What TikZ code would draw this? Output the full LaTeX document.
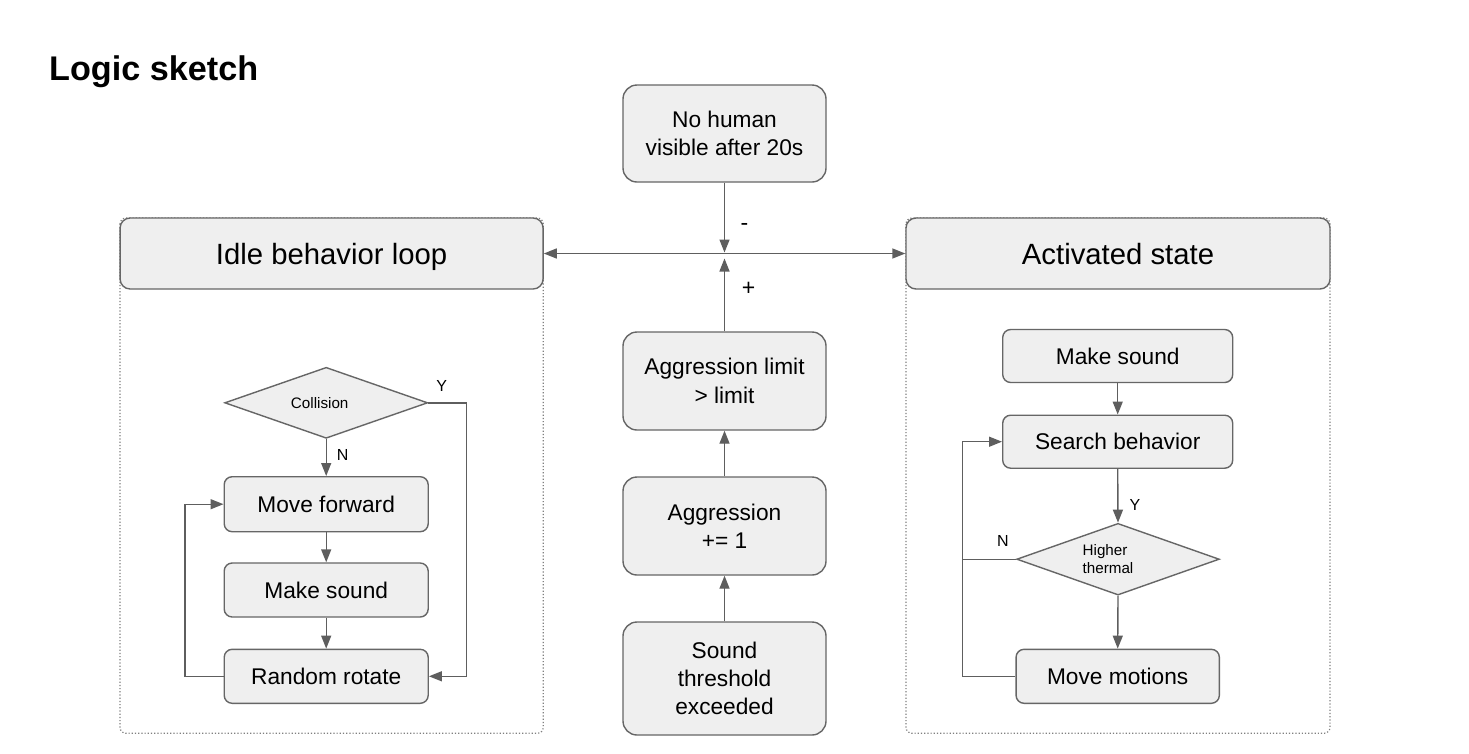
\documentclass[tikz,border=0pt]{standalone}
\usepackage{fontspec}
\setmainfont{Liberation Sans}
\usetikzlibrary{arrows.meta,shapes.geometric}
\definecolor{boxfill}{HTML}{EFEFEF}
\definecolor{boxline}{HTML}{666666}
\definecolor{arrline}{HTML}{5E5E5E}
\definecolor{dotline}{HTML}{808080}
\tikzset{
  boxtxt/.style={font=\fontsize{22.7}{28.3}\selectfont},
  stepbox/.style={draw=boxline, fill=boxfill, line width=1.4pt, rounded corners=8pt,
    boxtxt, align=center, inner sep=0pt, minimum width=203pt, minimum height=53pt},
  bigbox/.style={stepbox, rounded corners=14pt, minimum height=97pt},
  hdrbox/.style={draw=boxline, fill=boxfill, line width=1.4pt, rounded corners=10pt,
    font=\fontsize{29.3}{34}\selectfont, inner sep=0pt, text height=21pt, text depth=0pt,
    minimum width=423pt, minimum height=71pt},
  decide/.style={diamond, draw=boxline, fill=boxfill, line width=1.4pt, inner sep=0pt,
    aspect=2.86, minimum width=203pt, minimum height=71pt,
    font=\fontsize{15.2}{17.5}\selectfont, align=left},
  container/.style={draw=dotline, line width=1.2pt, dotted, rounded corners=6pt},
  arr/.style={draw=arrline, line width=1.4pt, -{Triangle[length=13pt,width=10pt]}},
  dbl/.style={draw=arrline, line width=1.4pt, {Triangle[length=13pt,width=10pt]}-{Triangle[length=13pt,width=10pt]}},
  lnk/.style={draw=arrline, line width=1.4pt},
  yn/.style={font=\fontsize{16}{19}\selectfont, inner sep=0pt},
  sign/.style={font=\fontsize{23}{26}\selectfont, inner sep=0pt}
}
\begin{document}
\begin{tikzpicture}[x=1pt,y=-1pt]
\useasboundingbox (0,0) rectangle (1469,753);
\fill[white] (0,0) rectangle (1469,753);

% title
\node[anchor=base west, inner sep=0pt, font=\fontsize{34.2}{40}\selectfont\bfseries] (title) at (49,80.5) {Logic sketch};

% containers
\draw[container] (120,218) rectangle (543.3,733.3);
\draw[container] (906,218) rectangle (1330,733.3);

% headers
\node[hdrbox] (idle) at (331.6,253.5) {Idle behavior loop};
\node[hdrbox, minimum width=424pt] (act) at (1118,253.5) {Activated state};

% centre column
\node[bigbox] (nohuman) at (724.5,133.5) {No human\\visible after 20s};
\node[bigbox, minimum height=98pt] (agglim) at (724.5,381) {Aggression limit\\> limit};
\node[bigbox, minimum height=98pt] (agginc) at (724.5,526) {Aggression\\+= 1};
\node[bigbox, minimum height=113pt] (sound) at (724.5,678.5) {Sound\\threshold\\exceeded};

\coordinate (jtop) at (724.5,252.5);
\coordinate (jbot) at (724.5,258.5);
\draw[dbl] (idle.east) -- (act.west);
\draw[arr] (nohuman.south) -- (jtop);
\draw[arr] (agglim.north) -- (jbot);
\draw[arr] (agginc.north) -- (agglim.south);
\draw[arr] (sound.north) -- (agginc.south);
\node[sign] (minus) at (744.5,227) {-};
\node[sign] (plus) at (748.5,288.5) {+};

% left panel
\node[decide] (coll) at (326.2,402.8) {Collision\hspace*{13pt}};
\node[stepbox, minimum width=204pt, minimum height=55pt] (fwd) at (326.2,504.2) {Move forward};
\node[stepbox, minimum width=204pt, minimum height=54pt] (lsound) at (326.2,590) {Make sound};
\node[stepbox, minimum width=204pt, minimum height=54pt] (rot) at (326.2,676.3) {Random rotate};

\draw[arr] (coll.south) -- (fwd.north);
\draw[arr] (fwd.south) -- (lsound.north);
\draw[arr] (lsound.south) -- (rot.north);
\draw[arr] (coll.east) -- (466.7,402.8) |- (rot.east);
\draw[arr] (rot.west) -- (185,676.3) |- (fwd.west);
\node[yn] (ly) at (441.7,386) {Y};
\node[yn] (ln) at (342.7,455) {N};

% right panel
\node[stepbox, minimum width=230pt] (rsound) at (1117.7,356) {Make sound};
\node[stepbox, minimum width=230pt] (search) at (1117.7,441.7) {Search behavior};
\node[decide, minimum width=202.6pt, minimum height=71.7pt] (therm) at (1118,559.2) {Higher\\thermal\hspace*{20pt}};
\node[stepbox, minimum width=203.3pt, minimum height=54pt] (motion) at (1117.7,676.3) {Move motions};

\draw[arr] (rsound.south) -- (search.north);
\draw[arr] (search.south) -- (therm.north);
\draw[arr] (therm.south) -- (motion.north);
\draw[arr] (motion.west) -- (962.7,676.3) |- (search.west);
\draw[lnk] (therm.west) -- (962.7,559.2);
\node[yn] (ry) at (1135,505) {Y};
\node[yn] (rn) at (1003,540.7) {N};
\end{tikzpicture}
\end{document}
